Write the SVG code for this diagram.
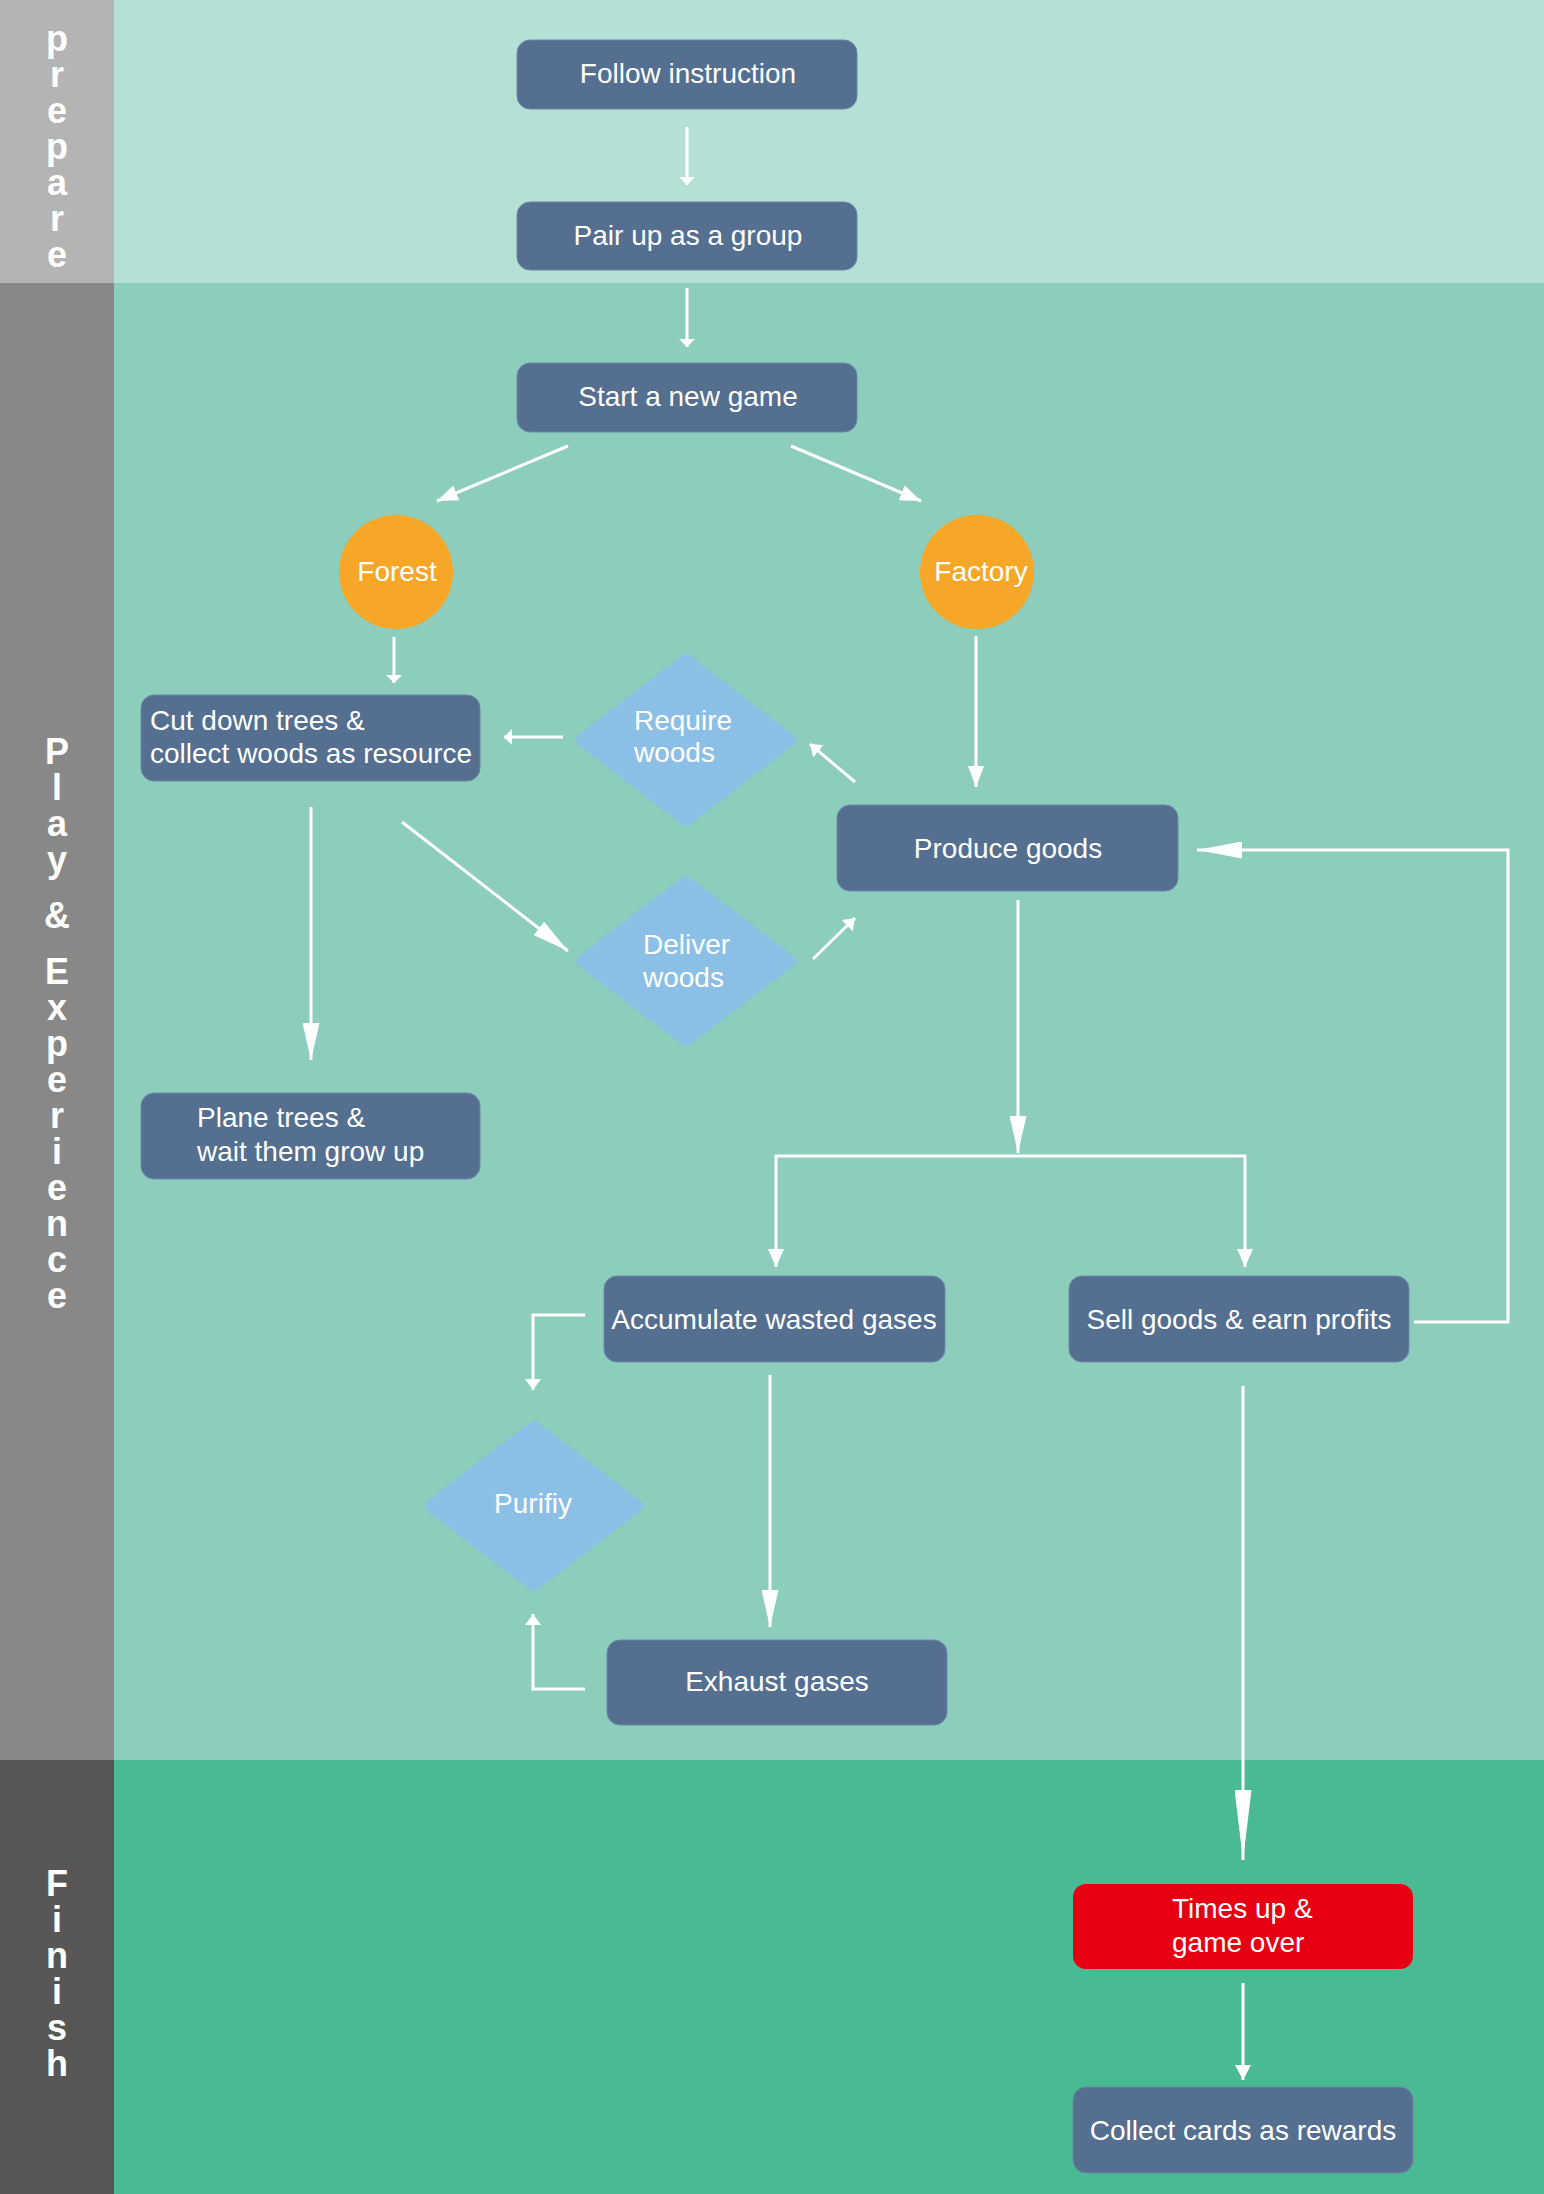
<svg xmlns="http://www.w3.org/2000/svg" width="1544" height="2194" viewBox="0 0 1544 2194">
<style>
.node{fill:#546f8f;stroke:#6b88a6;stroke-width:1}
.dia{fill:#8bbfe6;stroke:#8bbfe6;stroke-width:12;stroke-linejoin:round}
.circ{fill:#f6a728}
.t{font-family:"Liberation Sans",Arial,sans-serif;font-size:28px;fill:#ffffff}
.c{text-anchor:middle}
.lane{font-family:"Liberation Sans",Arial,sans-serif;font-size:36px;font-weight:bold;fill:#ffffff;writing-mode:vertical-rl;text-orientation:upright;letter-spacing:-5px}
.conn path{fill:none;stroke:#ffffff;stroke-width:3}
</style>
<defs>
<marker id="s8" markerUnits="userSpaceOnUse" viewBox="0 -8 8 16" markerWidth="8" markerHeight="16" refX="8" refY="0" orient="auto"><path d="M0,-8 L8,0 L0,8 Z" fill="#ffffff"/></marker>
<marker id="s11" markerUnits="userSpaceOnUse" viewBox="0 -8 11 16" markerWidth="11" markerHeight="16" refX="11" refY="0" orient="auto"><path d="M0,-8 L11,0 L0,8 Z" fill="#ffffff"/></marker>
<marker id="s15" markerUnits="userSpaceOnUse" viewBox="0 -8 15 16" markerWidth="15" markerHeight="16" refX="15" refY="0" orient="auto"><path d="M0,-8 L15,0 L0,8 Z" fill="#ffffff"/></marker>
<marker id="m18" markerUnits="userSpaceOnUse" viewBox="0 -8 18 16" markerWidth="18" markerHeight="16" refX="18" refY="0" orient="auto"><path d="M0,-8 L18,0 L0,8 Z" fill="#ffffff"/></marker>
<marker id="m21" markerUnits="userSpaceOnUse" viewBox="0 -8 21 16" markerWidth="21" markerHeight="16" refX="21" refY="0" orient="auto"><path d="M0,-8 L21,0 L0,8 Z" fill="#ffffff"/></marker>
<marker id="l37" markerUnits="userSpaceOnUse" viewBox="0 -8.5 37 17" markerWidth="37" markerHeight="17" refX="37" refY="0" orient="auto"><path d="M0,-8.5 L37,0 L0,8.5 Z" fill="#ffffff"/></marker>
<marker id="l45" markerUnits="userSpaceOnUse" viewBox="0 -8.5 45 17" markerWidth="45" markerHeight="17" refX="45" refY="0" orient="auto"><path d="M0,-8.5 L45,0 L0,8.5 Z" fill="#ffffff"/></marker>
<marker id="l70" markerUnits="userSpaceOnUse" viewBox="0 -8.5 70 17" markerWidth="70" markerHeight="17" refX="70" refY="0" orient="auto"><path d="M0,-8.5 L70,0 L0,8.5 Z" fill="#ffffff"/></marker>
</defs>

<g id="lanes">
<rect x="0" y="0" width="114" height="283" fill="#b4b4b4"/>
<rect x="114" y="0" width="1430" height="283" fill="#b5e0d6"/>
<rect x="0" y="283" width="114" height="1477" fill="#888888"/>
<rect x="114" y="283" width="1430" height="1477" fill="#8dcdbc"/>
<rect x="0" y="1760" width="114" height="434" fill="#575655"/>
<rect x="114" y="1760" width="1430" height="434" fill="#4aba93"/>
<text class="lane" x="57" y="18">prepare</text>
<text class="lane" x="57" y="731">Play</text>
<text class="lane" x="57" y="895">&amp;</text>
<text class="lane" x="57" y="951">Experience</text>
<text class="lane" x="57" y="1863">Finish</text>
</g>

<g id="connectors" class="conn">
<path d="M687,127 V185" marker-end="url(#s8)"/>
<path d="M687,288 V347" marker-end="url(#s8)"/>
<path d="M568,446 L437,501" marker-end="url(#m21)"/>
<path d="M791,446 L921,501" marker-end="url(#m21)"/>
<path d="M394,637 V683" marker-end="url(#s8)"/>
<path d="M563,737 H504" marker-end="url(#s8)"/>
<path d="M855,782 L810,744" marker-end="url(#s11)"/>
<path d="M402,822 L568,951" marker-end="url(#l37)"/>
<path d="M813,959 L855,918" marker-end="url(#s11)"/>
<path d="M311,807 V1060" marker-end="url(#l37)"/>
<path d="M976,636 V787" marker-end="url(#m21)"/>
<path d="M1018,900 V1153" marker-end="url(#l37)"/>
<path d="M1018,1156 H776 V1267" marker-end="url(#m18)"/>
<path d="M1018,1156 H1245 V1267" marker-end="url(#m18)"/>
<path d="M585,1315 H533 V1390" marker-end="url(#s11)"/>
<path d="M585,1689 H533 V1614" marker-end="url(#s11)"/>
<path d="M770,1375 V1627" marker-end="url(#l37)"/>
<path d="M1414,1322 H1508 V850 H1197" marker-end="url(#l45)"/>
<path d="M1243,1386 V1860" marker-end="url(#l70)"/>
<path d="M1243,1983 V2080" marker-end="url(#s15)"/>
</g>

<g id="follow"><rect class="node" x="517" y="40" width="340" height="69" rx="13"/><text class="t c" x="688" y="83">Follow instruction</text></g>
<g id="pair"><rect class="node" x="517" y="202" width="340" height="68" rx="13"/><text class="t c" x="688" y="245">Pair up as a group</text></g>
<g id="start"><rect class="node" x="517" y="363" width="340" height="69" rx="13"/><text class="t c" x="688" y="406">Start a new game</text></g>
<g id="forest"><circle class="circ" cx="396" cy="572" r="57"/><text class="t c" x="397" y="581">Forest</text></g>
<g id="factory"><circle class="circ" cx="977" cy="572" r="57"/><text class="t c" x="981" y="581">Factory</text></g>
<g id="cut"><rect class="node" x="141" y="695" width="339" height="86" rx="13"/><text class="t" x="150" y="730">Cut down trees &amp;</text><text class="t" x="150" y="763">collect woods as resource</text></g>
<g id="require"><polygon class="dia" points="686,660 790,740 686,820 582,740"/><text class="t" x="634" y="730">Require</text><text class="t" x="634" y="762">woods</text></g>
<g id="deliver"><polygon class="dia" points="686,882 790,961 686,1040 582,961"/><text class="t" x="643" y="954">Deliver</text><text class="t" x="643" y="987">woods</text></g>
<g id="produce"><rect class="node" x="837" y="805" width="341" height="86" rx="13"/><text class="t c" x="1008" y="858">Produce goods</text></g>
<g id="plane"><rect class="node" x="141" y="1093" width="339" height="86" rx="13"/><text class="t" x="197" y="1127">Plane trees &amp;</text><text class="t" x="197" y="1161">wait them grow up</text></g>
<g id="accumulate"><rect class="node" x="604" y="1276" width="341" height="86" rx="13"/><text class="t c" x="774" y="1329">Accumulate wasted gases</text></g>
<g id="sell"><rect class="node" x="1069" y="1276" width="340" height="86" rx="13"/><text class="t c" x="1239" y="1329">Sell goods &amp; earn profits</text></g>
<g id="purify"><polygon class="dia" points="534,1427 637,1506 534,1585 431,1506"/><text class="t c" x="533" y="1513">Purifiy</text></g>
<g id="exhaust"><rect class="node" x="607" y="1640" width="340" height="85" rx="13"/><text class="t c" x="777" y="1691">Exhaust gases</text></g>
<g id="timesup"><rect x="1073" y="1884" width="340" height="85" rx="13" fill="#e60012"/><text class="t" x="1172" y="1918">Times up &amp;</text><text class="t" x="1172" y="1952">game over</text></g>
<g id="collect"><rect class="node" x="1073" y="2087" width="340" height="86" rx="13"/><text class="t c" x="1243" y="2140">Collect cards as rewards</text></g>
</svg>
